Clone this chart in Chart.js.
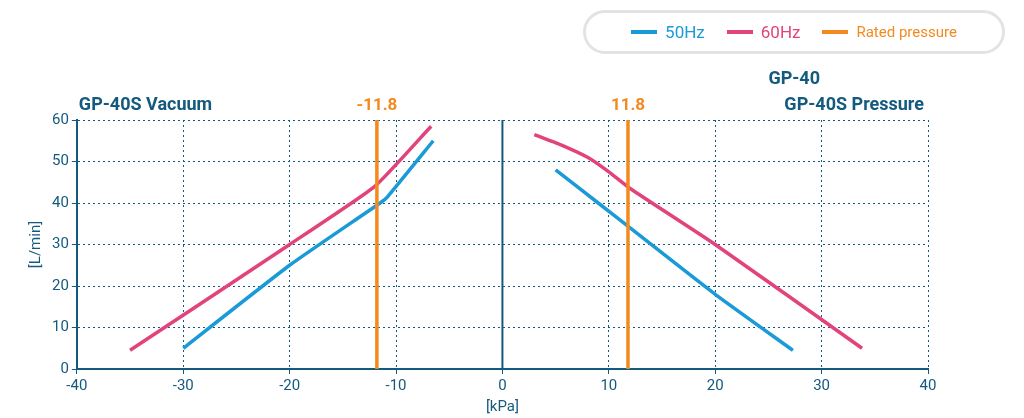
<!DOCTYPE html>
<html><head><meta charset="utf-8">
<script src="https://cdn.jsdelivr.net/npm/chart.js@4"></script>
<style>
body{margin:0;background:#fff;font-family:Roboto,"Noto Sans",sans-serif}
#wrap{position:relative;width:1024px;height:418px}
#legend{position:absolute;left:583px;top:10px;width:422px;height:44px;border:3px solid #e3e3e3;border-radius:22px;box-sizing:border-box;display:flex;align-items:center;justify-content:center;gap:22px;font-size:17px}
#legend span{display:flex;align-items:center}
#legend i{display:inline-block;width:26px;height:4px;margin-right:8px}
</style></head><body>
<div id="wrap">
<div id="legend">
<span style="color:#1a9ad6"><i style="background:#1a9ad6"></i>50Hz</span>
<span style="color:#e2437a"><i style="background:#e2437a"></i>60Hz</span>
<span style="color:#f38a1f;font-size:15px"><i style="background:#f38a1f"></i>Rated pressure</span>
</div>
<canvas id="c" width="1024" height="418"></canvas>
</div>
<script>
// values
const vac50 = [[-30,5],[-20,25],[-11.5,40],[-10.8,41.5],[-6.5,55]];
const vac60 = [[-35,4.5],[-20,30],[-12,44],[-6.7,58.5]];
const prs50 = [[5,48],[9,40],[12,34],[20,18],[27.3,4.5]];
const prs60 = [[3,56.5],[5.5,54],[8,51],[10,47.5],[12,43.5],[20,30],[33.8,5]];
const rated = [-11.8, 11.8];
const xTicks = [-40,-30,-20,-10,0,10,20,30,40];
const yTicks = [0,10,20,30,40,50,60];

const dark = '#135a7e', c50 = '#1a9ad6', c60 = '#e2437a', cor = '#f38a1f';
const pts = a => a.map(p => ({x:p[0], y:p[1]}));
const line = (d,c) => ({data:pts(d), borderColor:c, borderWidth:3.5, pointRadius:0, fill:false, tension:0.15});

const extras = {
  id:'extras',
  afterDatasetsDraw(ch){
    const {ctx, scales:{x,y}, chartArea:a} = ch;
    ctx.save();
    ctx.strokeStyle = dark; ctx.lineWidth = 2;
    ctx.beginPath(); ctx.moveTo(x.getPixelForValue(0), a.top); ctx.lineTo(x.getPixelForValue(0), a.bottom); ctx.stroke();
    ctx.strokeStyle = cor; ctx.lineWidth = 3.5;
    ctx.font = 'bold 17px Roboto'; ctx.fillStyle = cor; ctx.textAlign = 'center';
    rated.forEach(v => {
      const px = x.getPixelForValue(v);
      ctx.beginPath(); ctx.moveTo(px, a.top); ctx.lineTo(px, a.bottom); ctx.stroke();
      ctx.fillText(v.toFixed(1), px, a.top - 10);
    });
    ctx.fillStyle = dark; ctx.font = 'bold 18px Roboto';
    ctx.textAlign = 'left'; ctx.fillText('GP-40S Vacuum', a.left + 2, a.top - 10);
    ctx.textAlign = 'right';
    ctx.fillText('GP-40', 820, a.top - 36);
    ctx.fillText('GP-40S Pressure', a.right - 4, a.top - 10);
    ctx.restore();
  }
};

new Chart(document.getElementById('c'), {
  type:'line',
  data:{datasets:[line(vac50,c50), line(vac60,c60), line(prs50,c50), line(prs60,c60)]},
  options:{
    responsive:false, animation:false,
    layout:{padding:{top:120, right:96, left:23, bottom:2}},
    plugins:{legend:{display:false}, tooltip:{enabled:false}},
    scales:{
      x:{type:'linear', min:-40, max:40,
         afterBuildTicks: s => { s.ticks = xTicks.map(v => ({value:v})); },
         ticks:{color:dark, font:{size:15, family:'Roboto'}},
         grid:{color:dark, tickLength:5},
         border:{color:dark, width:2, dash:[2,3]},
         title:{display:true, text:'[kPa]', color:dark, font:{size:15, family:'Roboto'}, padding:0}},
      y:{min:0, max:60,
         afterBuildTicks: s => { s.ticks = yTicks.map(v => ({value:v})); },
         ticks:{color:dark, font:{size:15, family:'Roboto'}},
         grid:{color:dark, tickLength:5},
         border:{color:dark, width:2, dash:[2,3]},
         title:{display:true, text:'[L/min]', color:dark, font:{size:15, family:'Roboto'}, padding:4}}
    }
  },
  plugins:[extras]
});
</script>
</body></html>
